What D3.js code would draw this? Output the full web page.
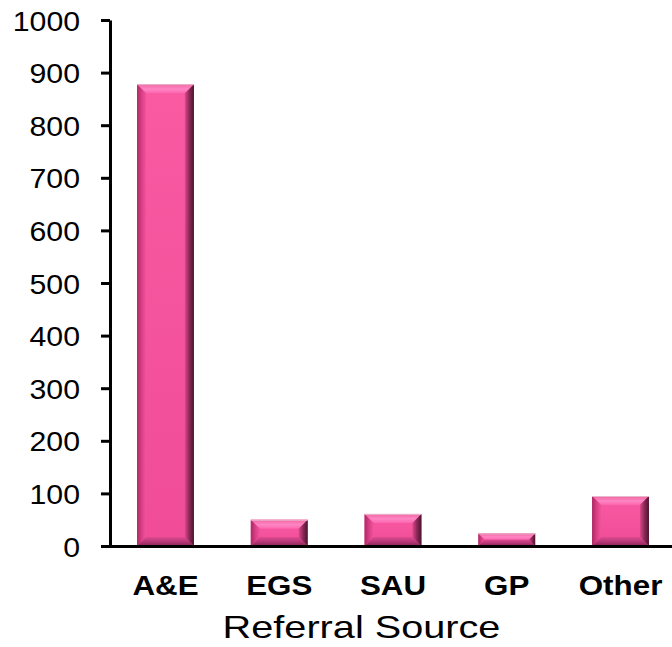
<!DOCTYPE html>
<html>
<head>
<meta charset="utf-8">
<script src="https://cdn.jsdelivr.net/npm/d3@7"></script>
<style>
  html, body { margin: 0; padding: 0; background: #fff; }
  svg { display: block; }
</style>
</head>
<body>
<svg id="chart" width="672" height="647"></svg>
<script>
// Referral counts by source
const categories = ["A&E", "EGS", "SAU", "GP", "Other"];
const counts = [878, 50, 61, 24, 95];
const yTicks = [0, 100, 200, 300, 400, 500, 600, 700, 800, 900, 1000];
const xTitle = "Referral Source";

const svg = d3.select("#chart");
const font = "'Liberation Sans', Arial, sans-serif";

const x = d3.scaleBand()
  .domain(categories)
  .range([108.6, 677.4])
  .paddingInner(0.5)
  .paddingOuter(0.25);

const y = d3.scaleLinear()
  .domain([0, 1000])
  .range([546, 20]);

// Gradients for the bevelled bar faces
const defs = svg.append("defs");
function grad(id, x1, y1, x2, y2, stops) {
  const g = defs.append("linearGradient").attr("id", id)
    .attr("x1", x1).attr("y1", y1).attr("x2", x2).attr("y2", y2);
  stops.forEach(([o, c]) => g.append("stop").attr("offset", o).attr("stop-color", c));
}
grad("gFace", 0, 0, 0, 1, [[0, "#f95aa2"], [1, "#f04c98"]]);
grad("gTop", 0, 0, 0, 1, [[0, "#f0649f"], [0.55, "#ff86c4"], [1, "#fb66ae"]]);
grad("gLeft", 0, 0, 1, 0, [[0, "#a92a62"], [0.5, "#d83e84"], [1, "#f2549c"]]);
grad("gRight", 1, 0, 0, 0, [[0, "#4a1430"], [0.5, "#8a2856"], [1, "#d9488a"]]);
grad("gBottom", 0, 1, 0, 0, [[0, "#8a2553"], [0.5, "#b8387a"], [1, "#e04a90"]]);

const bars = svg.append("g").selectAll("g.bar")
  .data(categories.map((c, i) => ({ c, v: counts[i] })))
  .join("g").attr("class", "bar");

bars.each(function(d) {
  const g = d3.select(this);
  const x0 = x(d.c), x1 = x0 + x.bandwidth();
  const y0 = y(d.v), y1 = y(0);
  const h = y1 - y0, w = x1 - x0;
  const b = Math.min(9, h / 2, w / 2);
  const pt = p => p.map(q => q.join(",")).join(" ");
  g.append("rect").attr("x", x0).attr("y", y0).attr("width", w).attr("height", h)
    .attr("fill", "url(#gFace)");
  g.append("polygon").attr("points", pt([[x0, y0], [x1, y0], [x1 - b, y0 + b], [x0 + b, y0 + b]]))
    .attr("fill", "url(#gTop)");
  g.append("polygon").attr("points", pt([[x0, y1], [x1, y1], [x1 - b, y1 - b], [x0 + b, y1 - b]]))
    .attr("fill", "url(#gBottom)");
  g.append("polygon").attr("points", pt([[x0, y0], [x0 + b, y0 + b], [x0 + b, y1 - b], [x0, y1]]))
    .attr("fill", "url(#gLeft)");
  g.append("polygon").attr("points", pt([[x1, y0], [x1 - b, y0 + b], [x1 - b, y1 - b], [x1, y1]]))
    .attr("fill", "url(#gRight)");
  g.append("line").attr("x1", x0).attr("x2", x1).attr("y1", y0 + 0.5).attr("y2", y0 + 0.5)
    .attr("stroke", "#e8b8cc").attr("stroke-width", 1);
});

// Y axis
const ySx = 1.08;
const yAxis = svg.append("g")
  .attr("transform", "translate(110,0)")
  .call(d3.axisLeft(y).tickValues(yTicks).tickFormat(d3.format("d"))
    .tickSize(9).tickPadding(21).tickSizeOuter(0));
yAxis.select(".domain").attr("stroke", "#000").attr("stroke-width", 3);
yAxis.selectAll(".tick line").attr("stroke", "#000").attr("stroke-width", 3);
yAxis.selectAll(".tick text")
  .attr("font-family", font).attr("font-size", 28).attr("fill", "#000").attr("dy", "0.36em")
  .attr("x", -30 / ySx).attr("transform", `scale(${ySx},1)`);

// X axis
const xAxis = svg.append("g")
  .attr("transform", "translate(0,546)")
  .call(d3.axisBottom(x).tickSize(0).tickPadding(49).tickSizeOuter(0));
xAxis.select(".domain").remove();
svg.append("line").attr("x1", 101).attr("x2", 672).attr("y1", 546.5).attr("y2", 546.5)
  .attr("stroke", "#000").attr("stroke-width", 3);
xAxis.selectAll(".tick text")
  .attr("font-family", font).attr("font-size", 28).attr("font-weight", "bold").attr("fill", "#000")
  .attr("dy", "0").attr("transform", "scale(1.12,1)");

svg.append("g")
  .attr("transform", "translate(361.5,638) scale(1.24,1)")
  .append("text")
  .attr("text-anchor", "middle")
  .attr("font-family", font).attr("font-size", 32).attr("fill", "#000")
  .text(xTitle);
</script>
</body>
</html>
